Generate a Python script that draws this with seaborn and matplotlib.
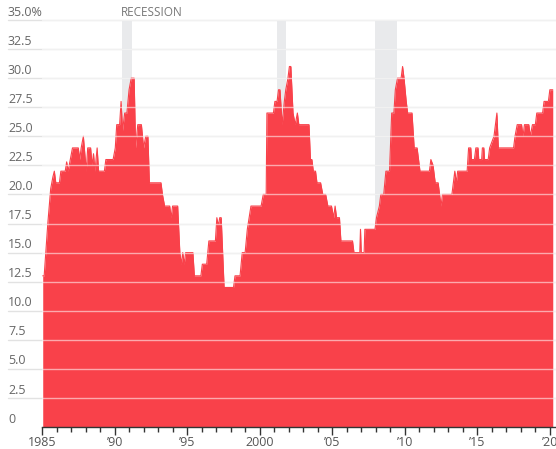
import numpy as np
import pandas as pd
import matplotlib
matplotlib.use('Agg')
import matplotlib.pyplot as plt
import seaborn as sns

# values (year, percent)
years = [1985.05, 1985.15, 1985.4, 1985.6, 1985.75, 1985.85, 1985.95, 1986.2, 1986.3, 1986.6,
         1986.7, 1986.8, 1986.95, 1987.1, 1987.5, 1987.6, 1987.7, 1987.85, 1987.95, 1988.05,
         1988.15, 1988.35, 1988.45, 1988.55, 1988.65, 1988.8, 1988.9, 1989.3, 1989.4, 1989.9,
         1990.05, 1990.15, 1990.35, 1990.45, 1990.55, 1990.7, 1990.85, 1991.0, 1991.15, 1991.35,
         1991.45, 1991.6, 1991.85, 1992.0, 1992.15, 1992.3, 1992.4, 1993.2, 1993.3, 1993.45,
         1993.8, 1993.9, 1994.0, 1994.35, 1994.5, 1994.6, 1994.7, 1994.8, 1994.9, 1995.4,
         1995.5, 1995.95, 1996.05, 1996.35, 1996.5, 1996.95, 1997.05, 1997.15, 1997.25, 1997.35,
         1997.55, 1998.2, 1998.3, 1998.65, 1998.8, 1999.0, 1999.15, 1999.4, 2000.1, 2000.25,
         2000.45, 2000.5, 2000.95, 2001.05, 2001.2, 2001.3, 2001.4, 2001.55, 2001.7, 2001.8,
         2001.95, 2002.05, 2002.15, 2002.3, 2002.45, 2002.6, 2002.7, 2003.4, 2003.5, 2003.6,
         2003.7, 2003.85, 2003.95, 2004.2, 2004.35, 2004.55, 2004.7, 2004.95, 2005.1, 2005.2,
         2005.3, 2005.5, 2005.6, 2006.4, 2006.5, 2006.9, 2006.95, 2007.0, 2007.2, 2007.25,
         2007.95, 2008.05, 2008.25, 2008.35, 2008.55, 2008.7, 2008.95, 2009.1, 2009.25, 2009.35,
         2009.5, 2009.75, 2009.85, 2009.95, 2010.1, 2010.2, 2010.5, 2010.65, 2010.85, 2010.95,
         2011.05, 2011.7, 2011.8, 2011.95, 2012.1, 2012.3, 2012.45, 2012.5, 2012.6, 2013.25,
         2013.35, 2013.45, 2013.55, 2013.65, 2014.3, 2014.4, 2014.55, 2014.6, 2014.8, 2014.9,
         2015.05, 2015.1, 2015.3, 2015.35, 2015.45, 2015.5, 2015.75, 2015.85, 2016.15, 2016.35,
         2016.45, 2017.5, 2017.6, 2017.75, 2018.05, 2018.15, 2018.25, 2018.55, 2018.65, 2018.8,
         2019.0, 2019.1, 2019.5, 2019.6, 2019.9, 2020.0, 2020.2]
values = [13, 13, 17.5, 20.5, 21.5, 22, 21, 21, 22, 22,
          22.8, 22, 23, 24, 24, 23, 24, 25, 23.5, 22,
          24, 24, 22.5, 23.5, 22, 24, 22, 22, 23, 23,
          24, 26, 26, 28, 25.5, 27, 27, 29, 30, 30,
          24, 26, 26, 24, 25, 25, 21, 21, 20, 19,
          19, 18, 19, 19, 15, 14, 15, 14, 15, 15,
          13, 13, 14, 14, 16, 16, 18, 17.3, 18, 18,
          12, 12, 13, 13, 15, 15, 17, 19, 19, 20,
          20, 27, 27, 28, 28, 29, 29, 26, 28, 29,
          30, 31, 31, 27, 26, 27, 26, 26, 23, 23,
          22, 22, 21, 21, 20, 20, 19, 19, 18, 19,
          18, 18, 16, 16, 15, 15, 17, 15, 15, 17,
          17, 18, 19, 20, 20, 22, 22, 27, 27, 29,
          30, 30, 31, 30, 28, 27, 27, 24, 24, 23,
          22, 22, 23, 22.5, 21, 21, 19.5, 19, 20, 20,
          21, 22, 21, 22, 22, 24, 24, 23, 23, 24,
          24, 23, 23, 24, 24, 23, 23, 24, 25, 27,
          24, 24, 25, 26, 26, 25, 26, 26, 25, 26,
          26, 27, 27, 28, 28, 29, 29]

recession_start = [1990.5, 2001.17, 2007.92]
recession_end = [1991.2, 2001.84, 2009.45]

y_ticks = [0, 2.5, 5, 7.5, 10, 12.5, 15, 17.5, 20, 22.5, 25, 27.5, 30, 32.5, 35]
y_labels = ['0', '2.5', '5.0', '7.5', '10.0', '12.5', '15.0', '17.5', '20.0',
            '22.5', '25.0', '27.5', '30.0', '32.5', '35.0%']
x_ticks = [1985, 1990, 1995, 2000, 2005, 2010, 2015, 2020]
x_labels = ['1985', "\u201990", "\u201995", '2000', "\u201905", "\u201910", "\u201915", "\u201920"]

df = pd.DataFrame({'year': years, 'value': values})

sns.set_style('white')
plt.rcParams['font.family'] = ['Open Sans', 'DejaVu Sans']

W, H = 556, 449
fig = plt.figure(figsize=(W / 100, H / 100), dpi=100)
left_px, right_px, top_px, bottom_px = 42, 556, 20, 427
ax = fig.add_axes([left_px / W, (H - bottom_px) / H,
                   (right_px - left_px) / W, (bottom_px - top_px) / H])

red = '#f9414a'
x0 = 1985
x1 = 1985 + (right_px - left_px) / 14.51
ax.set_xlim(x0, x1)
ax.set_ylim(0, 35)

# recession bands
for s, e in zip(recession_start, recession_end):
    ax.axvspan(s, e, ymin=0, ymax=1, color='#e9eaec', lw=0, zorder=0)

# grid underneath (grey) extending into label area
gx0 = (8 - left_px) / (right_px - left_px)
for t in y_ticks[1:]:
    ax.plot([gx0, 1], [t, t], transform=ax.get_yaxis_transform(), color='#e2e2e2',
            lw=1, clip_on=False, zorder=1)

ax.fill_between(df['year'], df['value'], 0, color=red, lw=0, zorder=2)
sns.lineplot(data=df, x='year', y='value', color=red, lw=0.8, ax=ax, zorder=2)

# white grid lines on top of the area
for t in y_ticks[1:]:
    ax.plot([0, 1], [t, t], transform=ax.get_yaxis_transform(), color='white',
            lw=1, alpha=0.55, zorder=3)

# y labels sitting on the grid lines
for t, lab in zip(y_ticks, y_labels):
    ax.text(gx0, t + 0.12, lab, transform=ax.get_yaxis_transform(), ha='left', va='bottom',
            fontsize=9, color='#666666', clip_on=False)

ax.text(1990.45, 35.12, 'RECESSION', ha='left', va='bottom', fontsize=8.5, color='#777777',
        clip_on=False)

sns.despine(ax=ax, left=True, top=True, right=True)
ax.spines['bottom'].set_color('#333333')
ax.spines['bottom'].set_linewidth(1)
ax.spines['bottom'].set_zorder(4)
ax.set_yticks([])
ax.set_xticks(x_ticks)
ax.set_xticklabels(x_labels)
ax.set_xticks(np.arange(1986, 2021), minor=True)
ax.tick_params(axis='x', which='major', length=6, width=1, color='#333333',
               labelsize=9, labelcolor='#555555', pad=0.5, bottom=True)
ax.tick_params(axis='x', which='minor', length=3.5, width=1, color='#333333', bottom=True)
ax.set_xlabel('')
ax.set_ylabel('')

fig.savefig('out.png', dpi=100)
